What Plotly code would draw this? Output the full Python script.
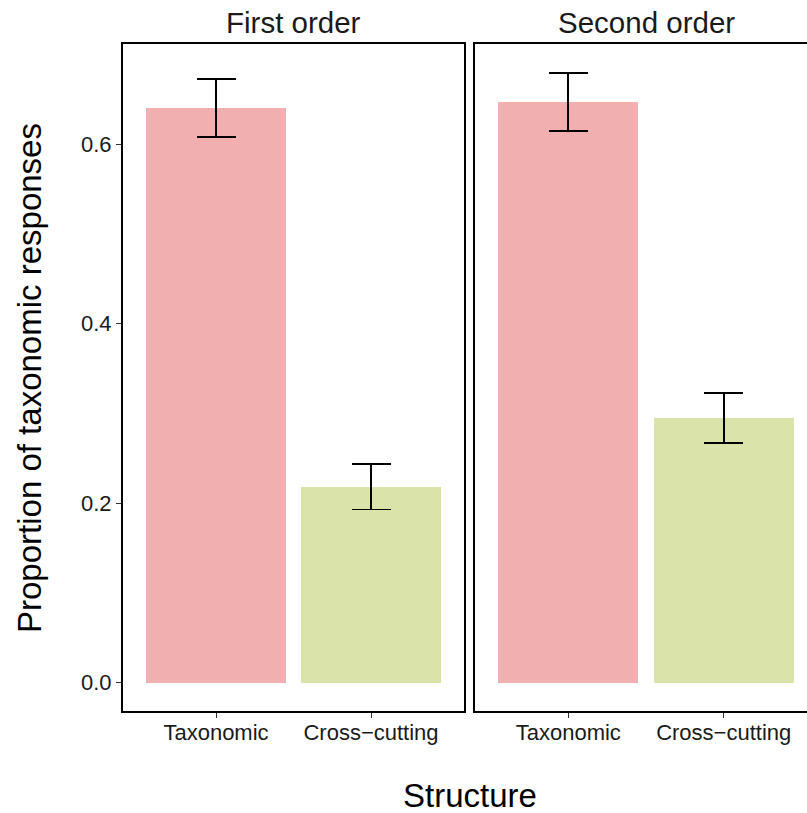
import plotly.graph_objects as go

categories = ["Taxonomic", "Cross\u2212cutting"]
facets = ["First order", "Second order"]
means = {
    "First order": [0.6405, 0.2183],
    "Second order": [0.6473, 0.2954],
}
upper = {
    "First order": [0.6723, 0.2435],
    "Second order": [0.6790, 0.3229],
}
lower = {
    "First order": [0.6080, 0.1930],
    "Second order": [0.6147, 0.2669],
}
bar_colors = ["#F2AFAF", "#D9E3AA"]
y_tickvals = [0.0, 0.2, 0.4, 0.6]
y_ticktext = ["0.0", "0.2", "0.4", "0.6"]

FONT = "Liberation Sans, Arial, Helvetica, sans-serif"
W, H = 807, 813
ML, MR, MT, MB = 123, 0, 44, 102
PW = W - ML - MR
px_per_unit = 155.45

fig = go.Figure()
xpos = [1, 2]
for i, f in enumerate(facets):
    xa = "x" if i == 0 else "x2"
    ya = "y" if i == 0 else "y2"
    fig.add_trace(go.Bar(
        x=xpos, y=means[f], width=0.9,
        marker=dict(color=bar_colors, line=dict(width=0)),
        error_y=dict(type="data", symmetric=False,
                     array=[u - m for u, m in zip(upper[f], means[f])],
                     arrayminus=[m - l for m, l in zip(means[f], lower[f])],
                     color="black", thickness=1.6, width=19.5),
        xaxis=xa, yaxis=ya, showlegend=False, hoverinfo="skip",
    ))

d1_end = 341 / PW
d2_start = 352 / PW
r2_end = 0.4 + (PW - 352) / px_per_unit
yr = [-0.0315, 0.7115]

common_x = dict(tickmode="array", tickvals=xpos, ticktext=categories,
                ticks="outside", ticklen=5, tickwidth=1.2, tickcolor="#333",
                ticklabelstandoff=-4,
                showline=True, linewidth=2, linecolor="black", mirror=True,
                showgrid=False, zeroline=False,
                tickfont=dict(family=FONT, size=22, color="#1a1a1a"))
fig.update_layout(
    width=W, height=H,
    margin=dict(l=ML, r=MR, t=MT, b=MB, pad=0),
    paper_bgcolor="white", plot_bgcolor="white",
    bargap=0,
    xaxis=dict(domain=[0, d1_end], range=[0.4, 2.6], anchor="y", **common_x),
    xaxis2=dict(domain=[d2_start, 1], range=[0.4, r2_end], anchor="y2", **common_x),
    yaxis=dict(range=yr, tickmode="array", tickvals=y_tickvals, ticktext=y_ticktext,
               ticks="outside", ticklen=5, tickwidth=1.2, tickcolor="#333",
               showline=True, linewidth=2, linecolor="black", mirror=True,
               showgrid=False, zeroline=False, anchor="x",
               tickfont=dict(family=FONT, size=22, color="#1a1a1a")),
    yaxis2=dict(range=yr, showticklabels=False, ticks="",
                showline=True, linewidth=2, linecolor="black", mirror=False,
                showgrid=False, zeroline=False, anchor="x2"),
    font=dict(family=FONT, color="black"),
)

ph = H - MT - MB
def py(p):
    return (H - MB - p) / ph
def px(p):
    return (p - ML) / PW

annotations = [
    dict(text="First order", x=px(293), y=py(23), xref="paper", yref="paper",
         xanchor="center", yanchor="middle", showarrow=False,
         font=dict(family=FONT, size=29.5, color="#1a1a1a")),
    dict(text="Second order", x=px(646), y=py(23), xref="paper", yref="paper",
         xanchor="center", yanchor="middle", showarrow=False,
         font=dict(family=FONT, size=29.5, color="#1a1a1a")),
    dict(text="Structure", x=px(470), y=py(795), xref="paper", yref="paper",
         xanchor="center", yanchor="middle", showarrow=False,
         font=dict(family=FONT, size=33, color="black")),
    dict(text="Proportion of taxonomic responses", x=px(29), y=py(378),
         xref="paper", yref="paper", xanchor="center", yanchor="middle",
         textangle=-90, showarrow=False,
         font=dict(family=FONT, size=33, color="black")),
]
fig.update_layout(annotations=annotations)

fig.write_html("out.html")
